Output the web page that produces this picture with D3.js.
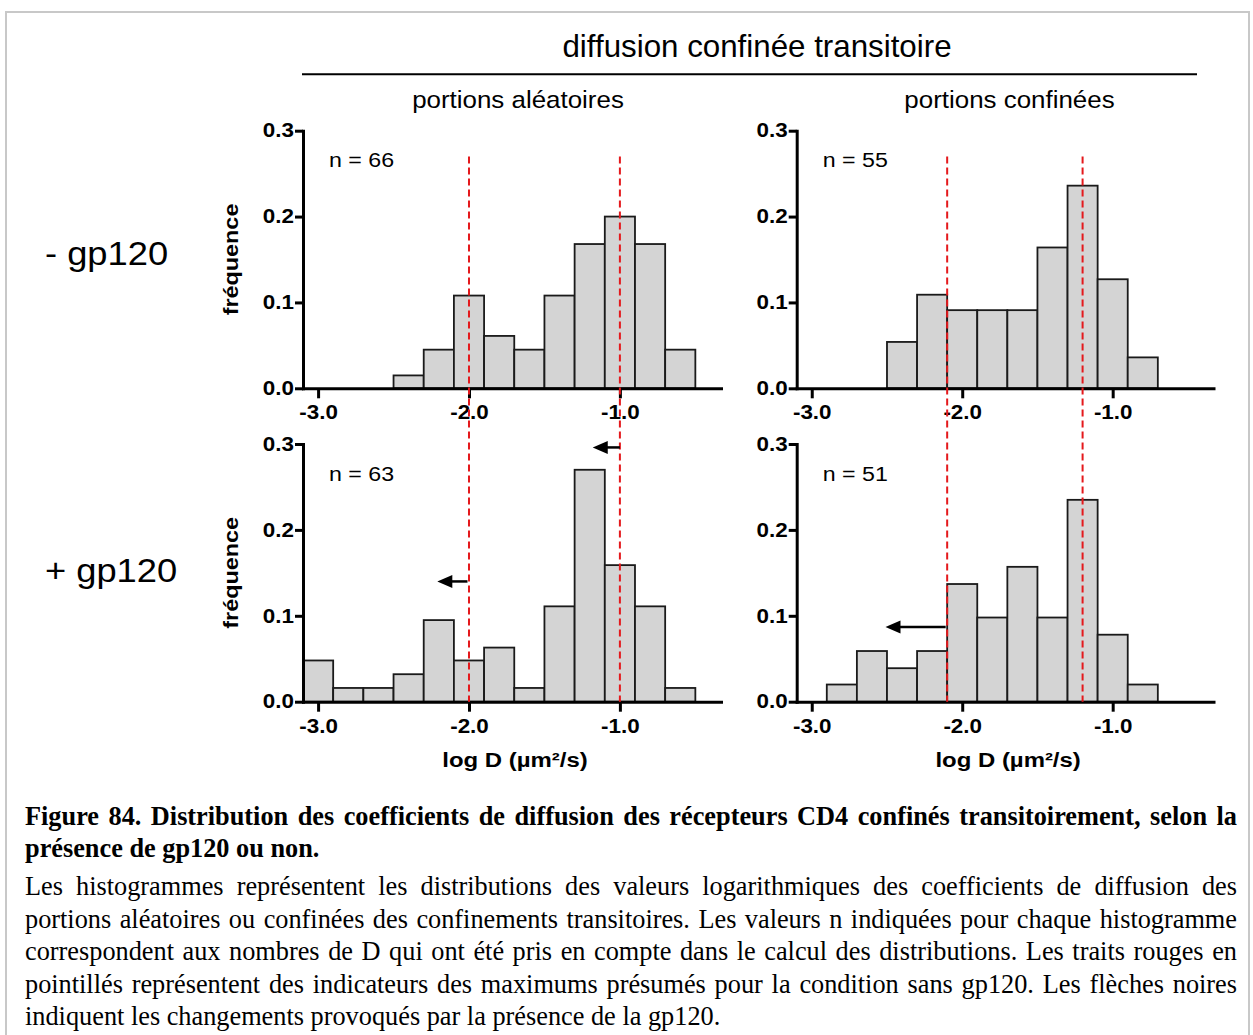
<!DOCTYPE html>
<html>
<head>
<meta charset="utf-8">
<script src="https://cdn.jsdelivr.net/npm/d3@7"></script>
<style>
  html, body { margin: 0; padding: 0; background: #fff; }
  svg { display: block; }
</style>
</head>
<body>
<svg id="chart" width="1253" height="1035"></svg>
<script>
// ---------------- DATA ----------------
const mainTitle = "diffusion confinée transitoire";
const columnTitles = ["portions aléatoires", "portions confinées"];
const rowTitles = ["- gp120", "+ gp120"];
const yAxisTitle = "fréquence";
const xAxisTitle = "log D (µm²/s)";

const binWidth = 0.2;
// bin left edges (log D) and frequencies per histogram
const binsAleatoiresSans = [-2.5, -2.3, -2.1, -1.9, -1.7, -1.5, -1.3, -1.1, -0.9, -0.7];
const freqAleatoiresSans = [0.015, 0.045, 0.108, 0.061, 0.045, 0.108, 0.168, 0.200, 0.168, 0.045];

const binsConfineesSans = [-2.5, -2.3, -2.1, -1.9, -1.7, -1.5, -1.3, -1.1, -0.9];
const freqConfineesSans = [0.054, 0.109, 0.091, 0.091, 0.091, 0.164, 0.236, 0.127, 0.036];

const binsAleatoiresAvec = [-3.1, -2.9, -2.7, -2.5, -2.3, -2.1, -1.9, -1.7, -1.5, -1.3, -1.1, -0.9, -0.7];
const freqAleatoiresAvec = [0.048, 0.016, 0.016, 0.032, 0.095, 0.048, 0.063, 0.016, 0.111, 0.270, 0.159, 0.111, 0.016];

const binsConfineesAvec = [-2.9, -2.7, -2.5, -2.3, -2.1, -1.9, -1.7, -1.5, -1.3, -1.1, -0.9];
const freqConfineesAvec = [0.020, 0.059, 0.039, 0.059, 0.137, 0.098, 0.157, 0.098, 0.235, 0.078, 0.020];

const nValues = [66, 55, 63, 51];

const xDomain = [-3.1, -0.33];
const yDomain = [0, 0.3];
const xTickValues = [-3, -2, -1];
const xTickLabels = ["-3.0", "-2.0", "-1.0"];
const yTickValues = [0, 0.1, 0.2, 0.3];
const yTickLabels = ["0.0", "0.1", "0.2", "0.3"];

// red dashed "presumed maxima" per column
const peakLinesAleatoires = [-2.0, -1.0];
const peakLinesConfinees = [-2.1, -1.2];
const peakLineTop = 0.27;

// arrows (panel index: 0 TL, 1 TR, 2 BL, 3 BR)
const arrowPanel = [2, 2, 3];
const arrowFrom = [-1.0, -2.01, -2.11];
const arrowTo = [-1.18, -2.21, -2.51];
const arrowAt = [0.296, 0.14, 0.087];

const captionBold = [
  "Figure 84. Distribution des coefficients de diffusion des récepteurs CD4 confinés transitoirement, selon la",
  "présence de gp120 ou non."
];
const captionBody = [
  "Les histogrammes représentent les distributions des valeurs logarithmiques des coefficients de diffusion des",
  "portions aléatoires ou confinées des confinements transitoires. Les valeurs n indiquées pour chaque histogramme",
  "correspondent aux nombres de D qui ont été pris en compte dans le calcul des distributions. Les traits rouges en",
  "pointillés représentent des indicateurs des maximums présumés pour la condition sans gp120. Les flèches noires",
  "indiquent les changements provoqués par la présence de la gp120."
];

// ---------------- LAYOUT ----------------
const SANS = "'Liberation Sans', Arial, Helvetica, sans-serif";
const SERIF = "'Liberation Serif', 'Times New Roman', serif";
const colRanges = [[303, 721], [796.7, 1213.5]];
const rowRanges = [[388.3, 130.7], [701.7, 444]];

const svg = d3.select("#chart");

// frame
svg.append("rect").attr("x", 6).attr("y", 12).attr("width", 1243).attr("height", 1040)
  .attr("fill", "none").attr("stroke", "#c8c8c8").attr("stroke-width", 2);

function stext(g, x, y, str, o) {
  return g.append("text")
    .attr("transform", `translate(${x},${y})${o.rotate ? " rotate(" + o.rotate + ")" : ""} scale(${o.sx || 1},1)`)
    .attr("font-family", o.family || SANS)
    .attr("font-size", o.size)
    .attr("font-weight", o.weight || "normal")
    .attr("text-anchor", o.anchor || "start")
    .attr("fill", "#000")
    .text(str);
}

// headers
stext(svg, 757, 57.3, mainTitle, {size: 31, sx: 1.01, anchor: "middle"});
svg.append("line").attr("x1", 302).attr("x2", 1197).attr("y1", 74.3).attr("y2", 74.3)
  .attr("stroke", "#000").attr("stroke-width", 2);
stext(svg, 518, 107.5, columnTitles[0], {size: 24, sx: 1.08, anchor: "middle"});
stext(svg, 1009.5, 107.5, columnTitles[1], {size: 24, sx: 1.08, anchor: "middle"});
stext(svg, 45, 265, rowTitles[0], {size: 33, sx: 1.1});
stext(svg, 45, 581.7, rowTitles[1], {size: 33, sx: 1.1});

const panels = [
  {col: 0, row: 0, bins: binsAleatoiresSans, freq: freqAleatoiresSans, n: nValues[0]},
  {col: 1, row: 0, bins: binsConfineesSans, freq: freqConfineesSans, n: nValues[1]},
  {col: 0, row: 1, bins: binsAleatoiresAvec, freq: freqAleatoiresAvec, n: nValues[2]},
  {col: 1, row: 1, bins: binsConfineesAvec, freq: freqConfineesAvec, n: nValues[3]}
];

panels.forEach(p => {
  p.x = d3.scaleLinear().domain(xDomain).range(colRanges[p.col]);
  p.y = d3.scaleLinear().domain(yDomain).range(rowRanges[p.row]);
});

panels.forEach((p, pi) => {
  const g = svg.append("g");
  const x = p.x, y = p.y;
  // bars
  g.selectAll("rect.bar").data(p.bins.map((b, i) => ({b, v: p.freq[i]})))
    .join("rect").attr("class", "bar")
    .attr("x", d => x(d.b))
    .attr("width", d => x(d.b + binWidth) - x(d.b))
    .attr("y", d => y(d.v))
    .attr("height", d => y(0) - y(d.v))
    .attr("fill", "#d4d4d4")
    .attr("stroke", "#1a1a1a")
    .attr("stroke-width", 1.8);

  // x axis
  const xa = g.append("g").attr("transform", `translate(0,${y(0)})`)
    .call(d3.axisBottom(x).tickValues(xTickValues).tickFormat((d, i) => xTickLabels[i])
      .tickSizeInner(10).tickSizeOuter(0).tickPadding(7));
  // y axis
  const ya = g.append("g").attr("transform", `translate(${x(xDomain[0])},0)`)
    .call(d3.axisLeft(y).tickValues(yTickValues).tickFormat((d, i) => yTickLabels[i])
      .tickSizeInner(8).tickSizeOuter(0).tickPadding(1));
  [xa, ya].forEach(a => {
    a.attr("font-family", SANS).attr("font-size", 19.5).attr("font-weight", "bold");
    a.select(".domain").attr("stroke", "#000").attr("stroke-width", 3).attr("stroke-linecap", "square");
    a.selectAll(".tick line").attr("stroke", "#000").attr("stroke-width", 3);
    a.selectAll(".tick text").attr("fill", "#000").attr("transform", "scale(1.15,1)");
  });
  ya.selectAll(".tick text").attr("x", -9 / 1.15);

  // n label
  stext(g, x(xDomain[0]) + 26, y(0.3) + 36.5, "n = " + p.n, {size: 20, sx: 1.16});

  // y label
  const ym = (rowRanges[p.row][0] + rowRanges[p.row][1]) / 2;
  if (p.col === 0) {
    stext(svg, 237.5, ym, yAxisTitle, {size: 20, sx: 1.17, weight: "bold", anchor: "middle", rotate: -90});
  }
  if (p.row === 1) {
    const xm = (colRanges[p.col][0] + colRanges[p.col][1]) / 2 + 3;
    stext(svg, xm, 767, xAxisTitle, {size: 21, sx: 1.14, weight: "bold", anchor: "middle"});
  }
});

// red dashed lines (span both rows of a column)
[[peakLinesAleatoires, 0], [peakLinesConfinees, 1]].forEach(([vals, col]) => {
  const top = panels.find(p => p.col === col && p.row === 0);
  const bot = panels.find(p => p.col === col && p.row === 1);
  vals.forEach(v => {
    svg.append("line")
      .attr("x1", top.x(v)).attr("x2", top.x(v))
      .attr("y1", top.y(peakLineTop)).attr("y2", bot.y(0))
      .attr("stroke", "#e4191c").attr("stroke-width", 2)
      .attr("stroke-dasharray", "7,4");
  });
});

// arrows
arrowPanel.forEach((pi, i) => {
  const p = panels[pi];
  const x0 = p.x(arrowFrom[i]), x1 = p.x(arrowTo[i]), yy = p.y(arrowAt[i]);
  const hl = 15, hw = 6.5;
  svg.append("line").attr("x1", x0).attr("x2", x1 + hl - 1).attr("y1", yy).attr("y2", yy)
    .attr("stroke", "#000").attr("stroke-width", 2.5);
  svg.append("path")
    .attr("d", `M${x1},${yy}L${x1 + hl},${yy - hw}L${x1 + hl},${yy + hw}Z`)
    .attr("fill", "#000");
});

// caption
const capLeft = 25, capRight = 1237, capSize = 26.3;
function captionLine(str, y, bold, justify) {
  const t = svg.append("text").attr("y", y)
    .attr("font-family", SERIF).attr("font-size", capSize)
    .attr("font-weight", bold ? "bold" : "normal").attr("fill", "#000");
  const words = str.split(" ");
  const spans = words.map(w => t.append("tspan").text(w));
  const widths = spans.map(s => s.node().getComputedTextLength());
  const total = d3.sum(widths);
  const gap = justify ? (capRight - capLeft - total) / (words.length - 1) : capSize * 0.25;
  let xx = capLeft;
  spans.forEach((s, i) => { s.attr("x", xx); xx += widths[i] + gap; });
}
captionLine(captionBold[0], 825, true, true);
captionLine(captionBold[1], 856.7, true, false);
const bodyY = [895, 927.5, 960, 992.5, 1025];
captionBody.forEach((s, i) => captionLine(s, bodyY[i], false, i < captionBody.length - 1));
</script>
</body>
</html>
